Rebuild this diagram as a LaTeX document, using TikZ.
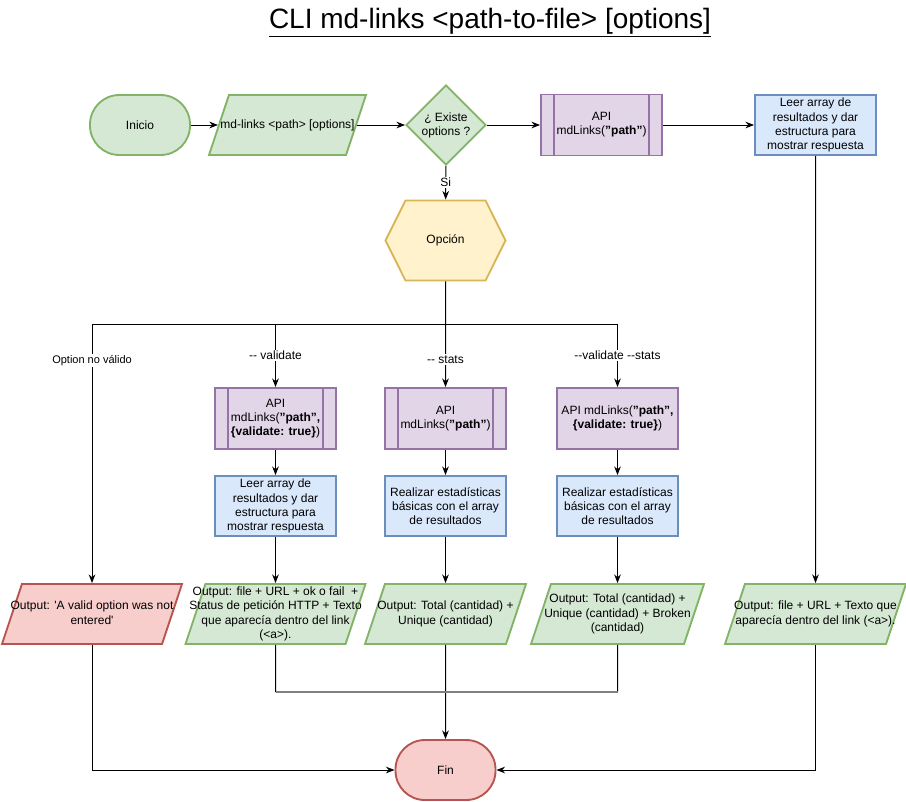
\documentclass[tikz,border=0pt]{standalone}
\usepackage{fontspec}
\setmainfont{Liberation Sans}
\usepackage{tikz}
\usetikzlibrary{shapes.geometric, shapes.symbols, arrows.meta, positioning}
\definecolor{greenbg}{HTML}{D5E8D4}
\definecolor{greenln}{HTML}{82B366}
\definecolor{purplebg}{HTML}{E1D5E7}
\definecolor{purpleln}{HTML}{9673A6}
\definecolor{bluebg}{HTML}{DAE8FC}
\definecolor{blueln}{HTML}{6C8EBF}
\definecolor{yellowbg}{HTML}{FFF2CC}
\definecolor{yellowln}{HTML}{D6B656}
\definecolor{redbg}{HTML}{F8CECC}
\definecolor{redln}{HTML}{B85450}
% text of a data box, kept at the full box height so the slant stays fixed
\newcommand{\iotext}[1]{\raisebox{-2.4pt}[22.5pt][22.5pt]{\begin{tabular}{@{}c@{}}#1\end{tabular}}}

\begin{document}
\begin{tikzpicture}[x=0.75pt, y=-0.75pt,
    font=\fontsize{9}{10.6}\selectfont,
    box/.style={draw, line width=1.4pt, align=center, inner sep=2pt},
    term/.style={box, rounded corners=22pt, minimum width=75pt, minimum height=45pt},
    inout/.style={box, trapezium, trapezium left angle=71.6, trapezium right angle=108.4,
                  trapezium stretches body=true, inner xsep=-14pt, inner ysep=0pt},
    proc/.style={box, minimum width=90.75pt, minimum height=45pt},
    predef/.style={proc, fill=purplebg, draw=purpleln,
      path picture={\draw[purpleln, line width=1.4pt]
        ([xshift=9.75pt]path picture bounding box.north west) -- ([xshift=9.75pt]path picture bounding box.south west)
        ([xshift=-9.75pt]path picture bounding box.north east) -- ([xshift=-9.75pt]path picture bounding box.south east);}},
    conn/.style={-{Stealth[length=6.5pt, width=5pt]}, line width=0.75pt},
    elabel/.style={fill=white, inner sep=1pt, font=\fontsize{9}{10.6}\selectfont}]

  \useasboundingbox (0,0) rectangle (906,801);

  \node (title) at (490,23) {\fontsize{21}{25}\selectfont\underline{CLI md-links <path-to-file> [options]}};

  \node[term, fill=greenbg, draw=greenln] (inicio) at (140,125) {Inicio};
  \node[inout, fill=greenbg, draw=greenln, minimum width=117.75pt] (mdlinks) at (287.5,125) {\iotext{md-links <path> [options]}};
  \node[box, diamond, aspect=1, inner sep=0pt, minimum size=60pt, fill=greenbg, draw=greenln] (existe) at (446,125) {¿ Existe\\options ?};
  \node[predef, minimum height=45.75pt] (apimain) at (601.5,125) {API\\mdLinks(\textbf{"path"})};
  \node[proc, fill=bluebg, draw=blueln] (leermain) at (815.5,125) {Leer array de\\resultados y dar\\estructura para\\mostrar respuesta};

  \node[box, signal, signal to=west and east, signal pointer angle=127,
        minimum width=90pt, minimum height=60pt, fill=yellowbg, draw=yellowln] (opcion) at (445.5,240.5) {Opción};
  \coordinate (split) at (445.5,324);

  \node[predef, minimum height=45.75pt] (apival) at (275.5,418.5) {API\\mdLinks(\textbf{"path",}\\\textbf{\{validate: true\}})};
  \node[predef, minimum height=45.75pt] (apistats) at (445.5,418.5) {API\\mdLinks(\textbf{"path"})};
  \node[proc, minimum height=45.75pt, fill=purplebg, draw=purpleln] (apiboth) at (617.5,418.5) {API mdLinks(\textbf{"path",}\\\textbf{\{validate: true\}})};

  \node[proc, fill=bluebg, draw=blueln] (leerval) at (275.5,506) {Leer array de\\resultados y dar\\estructura para\\mostrar respuesta};
  \node[proc, fill=bluebg, draw=blueln] (statsone) at (445.5,506) {Realizar estadísticas\\básicas con el array\\de resultados};
  \node[proc, fill=bluebg, draw=blueln] (statsboth) at (617.5,506) {Realizar estadísticas\\básicas con el array\\de resultados};

  \node[inout, fill=redbg, draw=redln, minimum width=135pt] (outinv) at (92,614) {\iotext{Output: \textquotesingle A valid option was not\\entered\textquotesingle}};
  \node[inout, fill=greenbg, draw=greenln, minimum width=135pt] (outval) at (275.5,614) {\iotext{Output: file + URL + ok o fail\ \ +\\Status de petición HTTP + Texto\\que aparecía dentro del link\\(<a>).}};
  \node[inout, fill=greenbg, draw=greenln, minimum width=120.75pt] (outstats) at (445.5,614) {\iotext{Output: Total (cantidad) +\\Unique (cantidad)}};
  \node[inout, fill=greenbg, draw=greenln, minimum width=129.75pt] (outboth) at (617.5,614) {\iotext{Output: Total (cantidad) +\\Unique (cantidad) + Broken\\(cantidad)}};
  \node[inout, fill=greenbg, draw=greenln, minimum width=135.75pt] (outmain) at (815.5,614) {\iotext{Output: file + URL + Texto que\\aparecía dentro del link (<a>).}};

  \node[term, fill=redbg, draw=redln] (fin) at (445.5,770) {Fin};
  \coordinate (joinval) at (275.5,692);
  \coordinate (joinboth) at (617.5,692);

  \foreach \from/\to in {inicio/mdlinks, mdlinks/existe, existe/apimain, apimain/leermain,
                         leermain/outmain, apival/leerval, leerval/outval, apistats/statsone,
                         statsone/outstats, apiboth/statsboth, statsboth/outboth, outstats/fin}
    \draw[conn] (\from) -- (\to);

  \draw[conn] (existe) -- node[elabel]{Si} (opcion);
  \draw[conn] (opcion) -- node[elabel, pos=0.74]{-{}- stats} (apistats);
  \draw[conn] (split) -| node[elabel, pos=0.57, font=\fontsize{8.25}{10}\selectfont]{Option no válido} (outinv);
  \draw[conn] (split) -| node[elabel, pos=0.75]{-{}- validate} (apival);
  \draw[conn] (split) -| node[elabel, pos=0.75]{-{}-validate -{}-stats} (apiboth);

  \draw[line width=0.75pt] (outval) -- (joinval);
  \draw[line width=0.75pt] (outboth) -- (joinboth);
  \draw[gray, line width=1.5pt] (joinval) -- (joinboth);
  \draw[conn] (outinv) |- (fin);
  \draw[conn] (outmain) |- (fin);
\end{tikzpicture}
\end{document}
